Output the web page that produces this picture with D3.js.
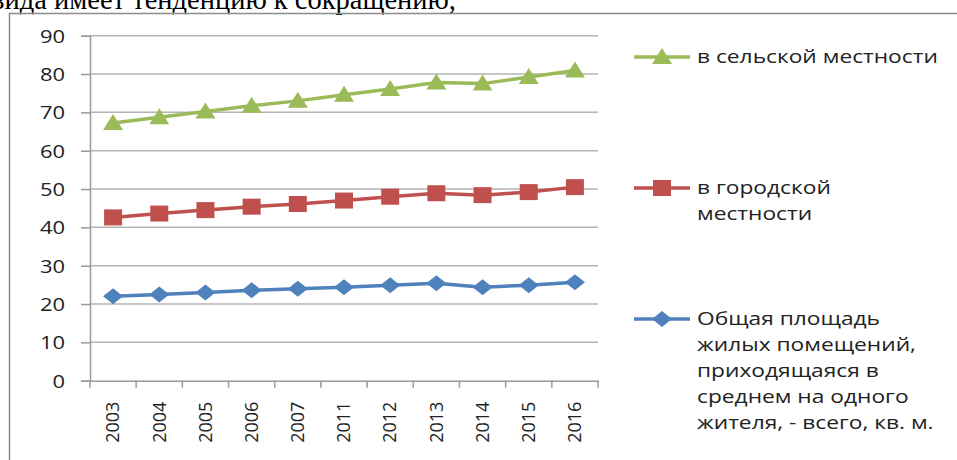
<!DOCTYPE html>
<html><head><meta charset="utf-8">
<script src="https://cdn.jsdelivr.net/npm/d3@7"></script>
<style>
html,body{margin:0;padding:0;background:#fff;overflow:hidden;}
svg{display:block;}
</style></head>
<body>
<svg id="chart" width="957" height="460"></svg>
<script>
const categories = ["2003","2004","2005","2006","2007","2011","2012","2013","2014","2015","2016"];
const rural = [67.2, 68.7, 70.2, 71.7, 73.0, 74.6, 76.1, 77.8, 77.5, 79.2, 80.9];
const urban = [42.6, 43.6, 44.5, 45.4, 46.1, 47.0, 48.0, 48.9, 48.4, 49.2, 50.5];
const total = [22.0, 22.5, 23.0, 23.6, 24.0, 24.4, 24.9, 25.4, 24.4, 24.9, 25.7];
const yTicks = [0, 10, 20, 30, 40, 50, 60, 70, 80, 90];
const legendRural = ["в сельской местности"];
const legendUrban = ["в городской", "местности"];
const legendTotal = ["Общая площадь", "жилых помещений,", "приходящаяся в", "среднем на одного", "жителя, - всего, кв. м."];
const headText = "вида имеет тенденцию к сокращению,";

const svg = d3.select("#chart");

// heading text (cut off at top, as in the source page)
svg.append("text").attr("x", 456).attr("y", 9).attr("text-anchor", "end")
  .attr("font-family", "Liberation Serif, Times New Roman, serif").attr("font-size", 28.5)
  .attr("fill", "#000").text(headText);

// frame
svg.append("path").attr("d", "M9.5,470 L9.5,13.5 L970,13.5")
  .attr("fill", "none").attr("stroke", "#8c8c8c").attr("stroke-width", 1.5);

const x = d3.scaleBand().domain(categories).range([90, 598]);
const y = d3.scaleLinear().domain([0, 90]).range([380.7, 35.7]);

const font = "Open Sans, sans-serif";
const sx = 1.22;
const lsx = 1.3;

// gridlines
svg.append("g").selectAll("line").data(yTicks.filter(d => d > 0)).join("line")
  .attr("x1", 90).attr("x2", 598).attr("y1", d => y(d)).attr("y2", d => y(d))
  .attr("stroke", "#b4b4b4").attr("stroke-width", 1.5);

// y axis
const yAxis = svg.append("g").attr("transform", "translate(90,0)")
  .call(d3.axisLeft(y).tickValues(yTicks).tickSize(9).tickPadding(0).tickFormat(d3.format("d")));
yAxis.select(".domain").attr("stroke", "#9a9a9a").attr("stroke-width", 1.5);
yAxis.selectAll(".tick line").attr("stroke", "#9a9a9a").attr("stroke-width", 1.5);
yAxis.selectAll(".tick text").attr("font-family", font).attr("font-size", 18).attr("fill", "#222")
  .attr("x", 0).attr("dy", "0.36em")
  .attr("transform", `translate(-25,0) scale(${sx},1)`);

// x axis
const xAxis = svg.append("g").attr("transform", `translate(0,${y(0)})`)
  .call(d3.axisBottom(x).tickSize(0).tickFormat(d => d));
xAxis.select(".domain").attr("stroke", "#9a9a9a").attr("stroke-width", 1.5);
xAxis.selectAll(".tick text").attr("font-family", font).attr("font-size", 18).attr("fill", "#222")
  .attr("transform", "rotate(-90)").attr("text-anchor", "end")
  .attr("x", -21).attr("y", 0).attr("dy", "0.35em");
// boundary ticks
const bounds = categories.map(c => x(c)).concat([x.range()[1]]);
svg.append("g").selectAll("line").data(bounds).join("line")
  .attr("x1", d => d).attr("x2", d => d).attr("y1", y(0)).attr("y2", y(0) + 7)
  .attr("stroke", "#9a9a9a").attr("stroke-width", 1.5);

const cx = c => x(c) + x.bandwidth() / 2;
const line = d3.line().x(d => cx(d.c)).y(d => y(d.v));

const series = [
  {vals: total, color: "#4F81BD", marker: "diamond"},
  {vals: urban, color: "#C0504D", marker: "square"},
  {vals: rural, color: "#9BBB59", marker: "triangle"}
];

function markerPath(type) {
  if (type === "diamond") return "M0,-8 L10,0 L0,8 L-10,0 Z";
  if (type === "square") return "M-9,-8 L9,-8 L9,8 L-9,8 Z";
  return "M0,-9 L10,7 L-10,7 Z";
}

series.forEach(s => {
  const data = categories.map((c, i) => ({c, v: s.vals[i]}));
  svg.append("path").datum(data).attr("d", line).attr("fill", "none")
    .attr("stroke", s.color).attr("stroke-width", 3.5).attr("stroke-linejoin", "round");
  svg.append("g").selectAll("path").data(data).join("path")
    .attr("d", markerPath(s.marker))
    .attr("transform", d => `translate(${cx(d.c)},${y(d.v)})`)
    .attr("fill", s.color);
});

// legend
const legend = [
  {lines: legendRural, color: "#9BBB59", marker: "triangle", y0: 57},
  {lines: legendUrban, color: "#C0504D", marker: "square", y0: 188},
  {lines: legendTotal, color: "#4F81BD", marker: "diamond", y0: 319}
];
legend.forEach(l => {
  const g = svg.append("g");
  g.append("line").attr("x1", 634).attr("x2", 690).attr("y1", l.y0).attr("y2", l.y0)
    .attr("stroke", l.color).attr("stroke-width", 3.5);
  g.append("path").attr("d", markerPath(l.marker)).attr("transform", `translate(662,${l.y0})`).attr("fill", l.color);
  l.lines.forEach((t, i) => {
    g.append("text").attr("x", 0).attr("y", 0).attr("dy", "0.36em")
      .attr("transform", `translate(697,${l.y0 + i * 26}) scale(${lsx},1)`)
      .attr("font-family", font).attr("font-size", 17.5).attr("fill", "#222").text(t);
  });
});
</script>
</body></html>
